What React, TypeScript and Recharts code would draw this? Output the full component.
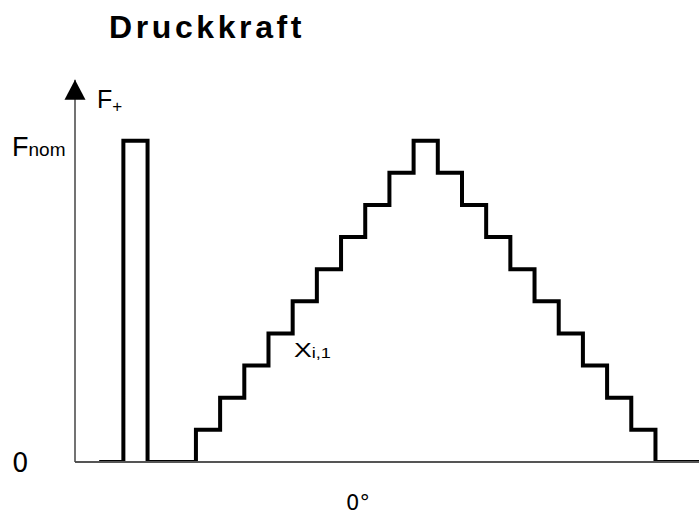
import { LineChart, Line, XAxis, YAxis, ReferenceDot } from 'recharts';

// step positions (in step-width units from the force axis) and force levels (Fnom = 10)
const positions = [1, 2, 3, 5, 6, 7, 8, 9, 10, 11, 12, 13, 14, 15, 16, 17, 18, 19, 20, 21, 22, 23, 24, 25.8];
const levels = [0, 10, 0, 1, 2, 3, 4, 5, 6, 7, 8, 9, 10, 9, 8, 7, 6, 5, 4, 3, 2, 1, 0, 0];
const yTicks = [0, 10];
const xTicks = [11.7];

const data = positions.map((p, i) => ({ p, f: levels[i] }));

const SANS = 'Liberation Sans, Arial, sans-serif';
const DEJA = 'DejaVu Sans, sans-serif';

function YTick(props: any) {
  const { y, payload } = props;
  if (payload.value === 0) {
    return (
      <text x={12} y={y + 10} fontFamily={DEJA} fontSize={26} fill="#000">
        0
      </text>
    );
  }
  return (
    <text x={12} y={y + 15} fontFamily={SANS} fontSize={27} fill="#000">
      F
      <tspan fontSize={19}>nom</tspan>
    </text>
  );
}

function XTick(props: any) {
  const { x, y } = props;
  return (
    <text x={x} y={y + 40} textAnchor="middle" fontFamily={DEJA} fontSize={21} fill="#000">
      0°
    </text>
  );
}

function Arrow(props: any) {
  const { cx, cy } = props;
  return (
    <g>
      <polygon points={`${cx},${cy} ${cx - 10.5},${cy + 20} ${cx + 10.5},${cy + 20}`} fill="#000" />
      <text x={cx + 22} y={cy + 28} fontFamily={SANS} fontSize={25} fill="#000">
        F<tspan fontSize={17} dy={4}>+</tspan>
      </text>
    </g>
  );
}

function XLabel(props: any) {
  const { cx, cy } = props;
  return (
    <text
      transform={`translate(${cx},${cy}) scale(1.3,1)`}
      x={0}
      y={0}
      fontFamily={SANS}
      fontSize={20.5}
      fill="#000"
    >
      X<tspan fontSize={14} dy={1.5}>i,1</tspan>
    </text>
  );
}

export default function App() {
  return (
    <div style={{ position: 'absolute', left: 0, top: 0, width: 699, height: 516, background: '#fff' }}>
      <div
        style={{
          position: 'absolute',
          left: 109,
          top: 7,
          fontFamily: SANS,
          fontWeight: 'bold',
          fontSize: 32,
          letterSpacing: 3.6,
          lineHeight: '40px',
          color: '#000',
          whiteSpace: 'nowrap',
        }}
      >
        Druckkraft
      </div>
      <LineChart width={699} height={516} data={data} margin={{ top: 79.7, right: 0, bottom: 0, left: 0 }}>
        <XAxis
          dataKey="p"
          type="number"
          domain={[0, 25.8]}
          ticks={xTicks}
          tickLine={false}
          height={54}
          axisLine={{ stroke: '#555', strokeWidth: 2 }}
          tick={<XTick />}
          allowDataOverflow
        />
        <YAxis
          type="number"
          domain={[0, 11.9]}
          ticks={yTicks}
          width={75}
          tickLine={false}
          axisLine={{ stroke: '#444', strokeWidth: 1.5 }}
          tick={<YTick />}
          allowDataOverflow
        />
        <Line
          dataKey="f"
          type="stepAfter"
          stroke="#000"
          strokeWidth={4}
          dot={false}
          activeDot={false}
          isAnimationActive={false}
        />
        <ReferenceDot x={0} y={11.9} ifOverflow="visible" shape={<Arrow />} />
        <ReferenceDot x={9.05} y={3.27} ifOverflow="visible" shape={<XLabel />} />
      </LineChart>
    </div>
  );
}
